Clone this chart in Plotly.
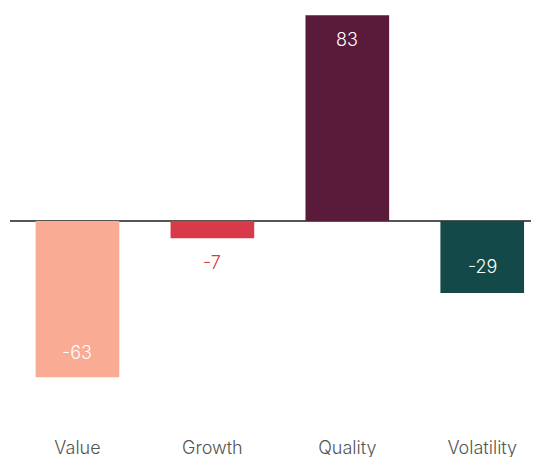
import plotly.graph_objects as go

categories = ["Value", "Growth", "Quality", "Volatility"]
values = [-63, -7, 83, -29]
labels = ["-63", "-7", "83", "-29"]
colors = ["#FAAB94", "#D93A49", "#5A1A3A", "#134A49"]
label_colors = ["#FFFFFF", "#D93A49", "#FFFFFF", "#FFFFFF"]
label_shift = [25, -24, -24, 26]

fig = go.Figure()
fig.add_trace(go.Bar(
    x=categories, y=values, marker=dict(color=colors, line=dict(width=0)),
    width=0.62, hoverinfo="skip",
))

for c, v, t, lc, s in zip(categories, values, labels, label_colors, label_shift):
    fig.add_annotation(x=c, y=v, text=t, showarrow=False, yshift=s,
                       font=dict(family="Inter", size=18, color=lc, weight=300),
                       xanchor="center", yanchor="middle")

fig.update_layout(
    width=539, height=457,
    margin=dict(l=2, r=0, t=0, b=30),
    paper_bgcolor="white", plot_bgcolor="white",
    showlegend=False,
    font=dict(family="Inter", size=18, color="#555555", weight=300),
    xaxis=dict(range=[-0.5, 3.48], showgrid=False, showline=False, ticks="",
               tickfont=dict(family="Inter", size=18, color="#555555", weight=300)),
    yaxis=dict(range=[-86.3, 85.9], showgrid=False, showticklabels=False,
               zeroline=True, zerolinecolor="#555555", zerolinewidth=1.5,
               showline=False, ticks=""),
)

fig.write_html("out.html")
